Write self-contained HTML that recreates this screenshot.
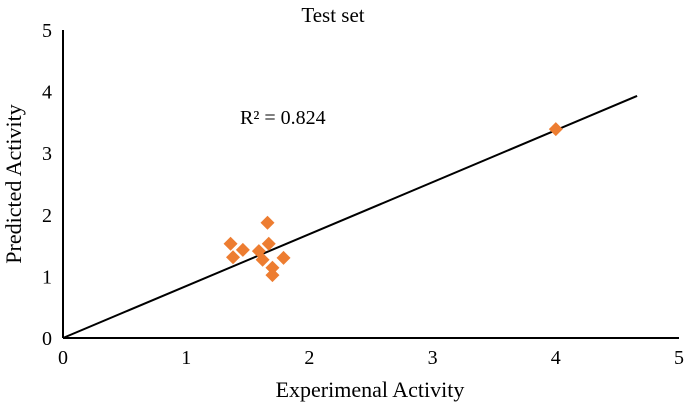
<!DOCTYPE html>
<html><head><meta charset="utf-8"><style>
body{margin:0;background:#fff;}
svg text{font-family:"Liberation Serif",serif;fill:#000;}
</style></head><body>
<svg id="chart" width="685" height="406" viewBox="0 0 685 406">
<text x="333" y="22" text-anchor="middle" font-size="21">Test set</text>
<g id="axes"></g><g id="ticks"></g><g id="fit"></g><g id="points"></g>
<text x="240" y="124" font-size="20">R² = 0.824</text>
<text x="370" y="397" text-anchor="middle" font-size="22">Experimenal Activity</text>
<text transform="translate(21,184) rotate(-90)" text-anchor="middle" font-size="22">Predicted Activity</text>
</svg>
<script>
const xTicks=[0,1,2,3,4,5];
const yTicks=[0,1,2,3,4,5];
const expX=[1.36,1.38,1.46,1.66,1.67,1.59,1.62,1.70,1.70,1.79,4.00];
const predY=[1.53,1.31,1.43,1.87,1.53,1.41,1.27,1.14,1.02,1.30,3.39];
const fitX=[0,4.66];
const fitY=[0,3.93];
const NS='http://www.w3.org/2000/svg';
const X0=63,XW=123.2,Y0=338,YH=61.6;
const sx=v=>X0+v*XW, sy=v=>Y0-v*YH;
function mk(tag,attrs,parent){const e=document.createElementNS(NS,tag);for(const k in attrs)e.setAttribute(k,attrs[k]);document.getElementById(parent).appendChild(e);return e;}
let a=mk('line',{x1:sx(0),y1:sy(0),x2:sx(5),y2:sy(0),stroke:'#000','stroke-width':2},'axes');


a=mk('line',{x1:sx(0),y1:sy(0),x2:sx(0),y2:sy(5),stroke:'#000','stroke-width':2},'axes');


xTicks.forEach(t=>{const e=mk('text',{x:sx(t),y:364,'text-anchor':'middle','font-size':20},'ticks');e.textContent=t;

});
yTicks.forEach(t=>{const e=mk('text',{x:52,y:sy(t)+7,'text-anchor':'end','font-size':20},'ticks');e.textContent=t;

});
const l=mk('line',{x1:sx(fitX[0]),y1:sy(fitY[0]),x2:sx(fitX[1]),y2:sy(fitY[1]),stroke:'#000','stroke-width':2},'fit');


expX.forEach((v,i)=>{const cx=sx(v),cy=sy(predY[i]),r=7;
const p=mk('polygon',{points:`${cx},${cy-r} ${cx+r},${cy} ${cx},${cy+r} ${cx-r},${cy}`,fill:'#ed7d31'},'points');

});
</script>
</body></html>
